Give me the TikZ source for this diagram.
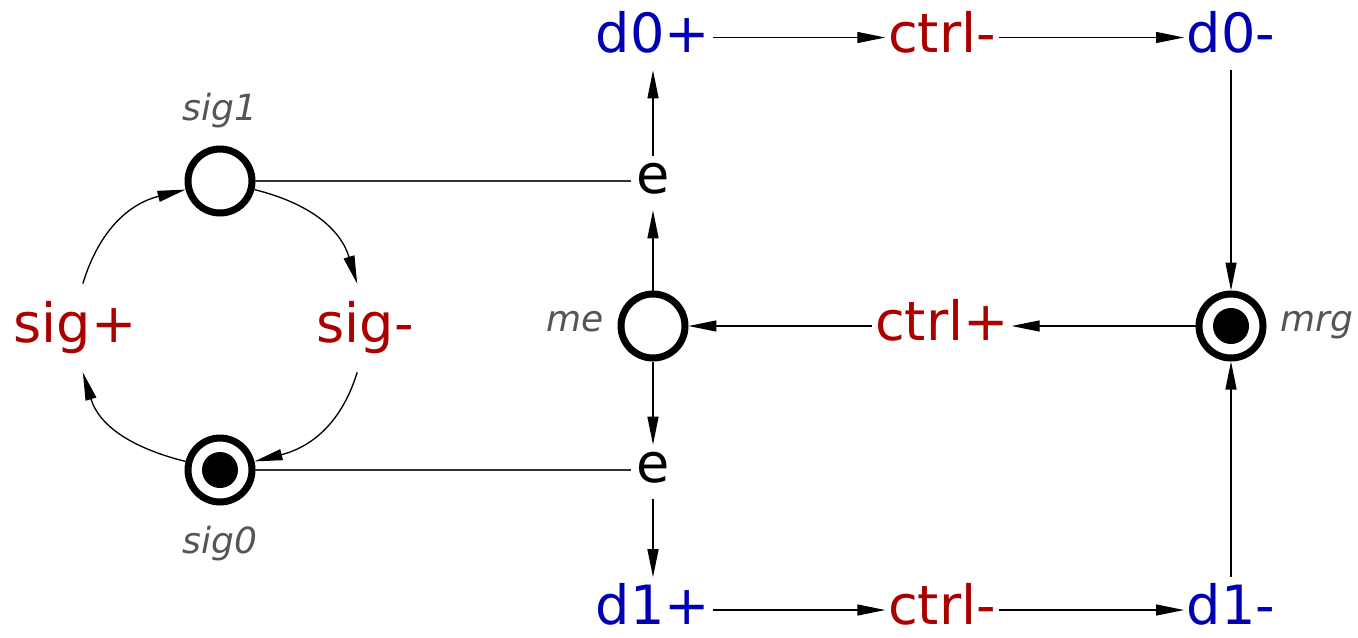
\documentclass[tikz,border=0pt]{standalone}
\usepackage{fontspec}
\setmainfont{DejaVu Sans}
\usetikzlibrary{arrows.meta}
\definecolor{dblue}{RGB}{0,0,178}
\definecolor{dred}{RGB}{170,0,0}
\definecolor{lgray}{RGB}{85,85,85}
\begin{document}
\begin{tikzpicture}[x=0.02cm,y=0.02cm,
  big/.style={font=\fontsize{30.8}{36}\selectfont, inner xsep=0.05cm, inner ysep=0.1cm, text height=0.84cm, text depth=0.26cm},
  blu/.style={big, text=dblue},
  rd/.style={big, text=dred},
  sigt/.style={big, text=dred, inner ysep=0.33cm},
  ee/.style={font=\fontsize{30.8}{36}\selectfont, inner xsep=0.1cm, inner ysep=0.14cm, text height=0.6cm, text depth=0.2cm},
  lbl/.style={font=\fontsize{20.5}{24}\selectfont\itshape, text=lgray, inner sep=0pt},
  place/.style={circle, draw, line width=0.14cm, minimum size=1.28cm, inner sep=0pt, fill=white},
  arr/.style={line width=0.75pt, -{Triangle[length=0.56cm, width=0.22cm]}},
  plain/.style={line width=0.75pt, black!80}
]
\useasboundingbox (0,0) rectangle (1358,-637);
% places
\node[place] (sig1) at (220,-181) {};
\node[place] (sig0) at (220,-470) {};
\node[place] (me) at (653,-326) {};
\node[place] (mrg) at (1231,-326) {};
\fill (sig0) circle[radius=0.36cm];
\fill (mrg) circle[radius=0.36cm];
% labels of places
\node[lbl] (lsig1) at (220,-111) {sig1};
\node[lbl] (lsig0) at (220,-544) {sig0};
\node[lbl] (lme) at (575,-322) {me};
\node[lbl] (lmrg) at (1317,-325) {mrg};
% transitions
\node[sigt] (sigp) at (75,-328) {sig+};
\node[sigt] (sigm) at (365,-328) {sig-};
\node[ee] (etop) at (653,-183) {e};
\node[ee] (ebot) at (653,-472) {e};
\node[blu] (d0p) at (653,-37.5) {d0+};
\node[rd] (ctrlt) at (942,-37.5) {ctrl-};
\node[blu] (d0m) at (1231,-37.5) {d0-};
\node[rd] (ctrlp) at (942,-326) {ctrl+};
\node[blu] (d1p) at (653,-610) {d1+};
\node[rd] (ctrlb) at (942,-610) {ctrl-};
\node[blu] (d1m) at (1231,-610) {d1-};
% cycle on the left
\draw[arr] (sig1) to[out=-14, in=107, looseness=1.05] (sigm.100);
\draw[arr] (sigm.-100) to[out=-107, in=14, looseness=1.05] (sig0);
\draw[arr] (sig0) to[out=166, in=-73, looseness=1.05] (sigp.-80);
\draw[arr] (sigp.80) to[out=73, in=-166, looseness=1.05] (sig1);
% plain links
\draw[plain] (sig1) -- (sig1 -| etop.west);
\draw[plain] (sig0) -- (sig0 -| ebot.west);
% arrows
\draw[arr] (me) -- (etop);
\draw[arr] (etop) -- (d0p);
\draw[arr] (me) -- (ebot);
\draw[arr] (ebot) -- (d1p);
\draw[arr] (d0p) -- (ctrlt);
\draw[arr] (ctrlt) -- (d0m);
\draw[arr] (d1p) -- (ctrlb);
\draw[arr] (ctrlb) -- (d1m);
\draw[arr] (d0m) -- (mrg);
\draw[arr] (d1m) -- (mrg);
\draw[arr] (mrg) -- (ctrlp);
\draw[arr] (ctrlp) -- (me);
\end{tikzpicture}
\end{document}
